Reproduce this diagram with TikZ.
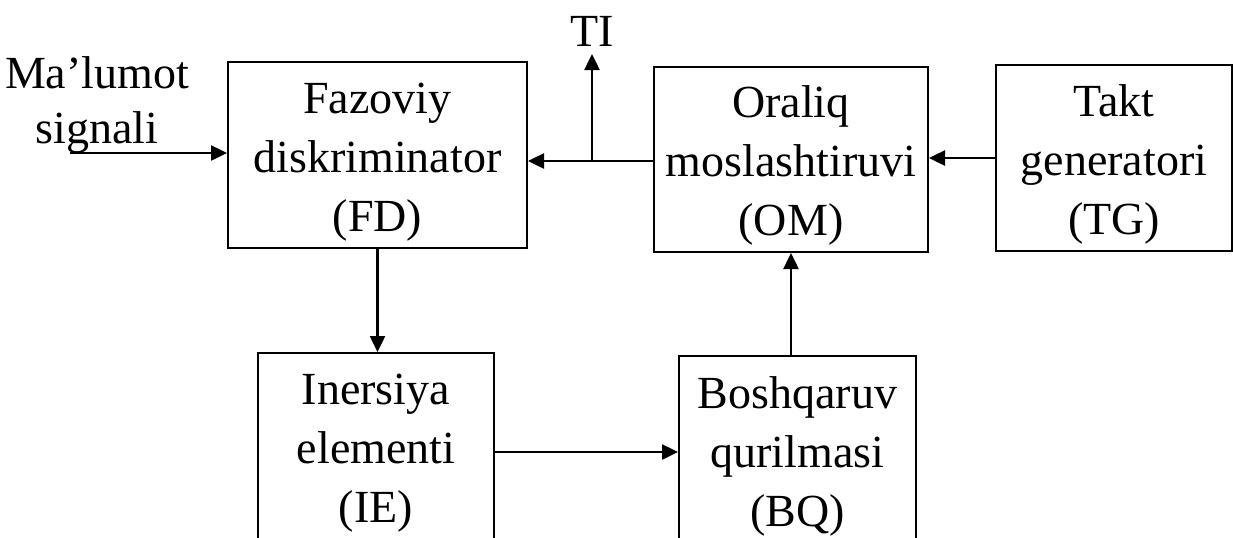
\documentclass[tikz,border=0pt]{standalone}
\usepackage{fontspec}
\setmainfont{Liberation Serif}
\usetikzlibrary{arrows.meta}
\newcommand{\ust}[1]{\rule{0pt}{#1}}
\begin{document}
\begin{tikzpicture}[x=0.5pt,y=-0.5pt,
  font=\fontsize{23}{29.5}\selectfont,
  blok/.style={draw, line width=1pt, rectangle, align=center, inner sep=0pt},
  oq/.style={-{Triangle[length=8pt,width=7.5pt]}, line width=1.25pt}]
\useasboundingbox (0,0) rectangle (1233,537);
\clip (0,0) rectangle (1233,537);
\node[blok, minimum width=149.5pt, minimum height=93pt] (fd) at (377.5,155) {\ust{22pt}Fazoviy\\diskriminator\\(FD)};
\node[blok, minimum width=137pt, minimum height=92.5pt] (om) at (791,159.5) {\ust{22pt}Oraliq\\moslashtiruvi\\(OM)};
\node[blok, minimum width=118pt, minimum height=93pt] (tg) at (1114,158) {\ust{22pt}Takt\\generatori\\(TG)};
\node[blok, minimum width=118pt, minimum height=95pt] (ie) at (376,448) {\ust{20pt}Inersiya\\elementi\\(IE)};
\node[blok, minimum width=118.5pt, minimum height=96pt] (bq) at (797.5,452) {\ust{20pt}Boshqaruv\\qurilmasi\\(BQ)};
\node[align=center, inner sep=0pt, font=\fontsize{23}{27.5}\selectfont] (ml) at (97,105) {Ma’lumot\\signali};
\node[anchor=south, inner sep=3.5pt] (tl) at (592,54) {TI};
\coordinate (kirish) at (70,153);
\coordinate (ti) at (592,161);
\draw[oq] (kirish) -- (fd.west |- kirish);
\draw[oq] (om.west |- ti) -- (fd.east |- ti);
\draw[oq] (ti) -- (tl.south);
\draw[oq] (tg.west) -- (om.east |- tg.west);
\draw[oq] (fd.south) -- (fd.south |- ie.north);
\draw[oq] (bq.west -| ie.east) -- (bq.west);
\draw[oq] (om.south |- bq.north) -- (om.south);
\end{tikzpicture}
\end{document}
